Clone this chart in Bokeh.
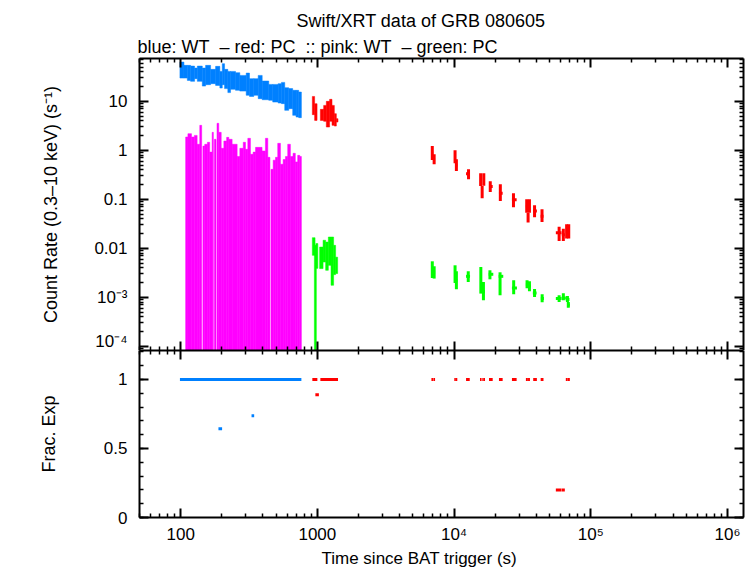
import numpy as np
from bokeh.plotting import figure
from bokeh.models import LogAxis, LinearAxis, FixedTicker, Title, Range1d, CustomJSTickFormatter
from bokeh.layouts import column
from bokeh.embed import file_html
from bokeh.resources import INLINE

FONT = "Liberation Sans"
BLUE, RED, PINK, GREEN = "#0080ff", "#ff0000", "#ff00ff", "#00ff00"

# ---------------- data ----------------
# WT (blue) count-rate bins: time bin edges and rate bounds
wt_tlo = [98.8, 105.7, 111.9, 118.3, 126.5, 132.4, 144.0, 152.2, 165.6, 180.1, 193.6, 201.6, 209.5, 221.4, 231.7, 252.0,
          270.9, 301.7, 318.9, 342.8, 369.2, 394.9, 441.1, 471.7, 516.6, 546.1, 577.3, 617.4, 660.3, 698.9, 730.3]
wt_thi = [105.7, 111.9, 118.3, 126.5, 132.4, 144.0, 152.2, 165.6, 180.1, 193.6, 201.6, 209.5, 221.4, 231.7, 252.0, 270.9,
          301.7, 318.9, 342.8, 369.2, 394.9, 441.1, 471.7, 516.6, 546.1, 577.3, 617.4, 660.3, 698.9, 730.3, 764.2]
wt_hi = [63.4, 54.3, 54.3, 52.5, 47.8, 52.5, 47.8, 54.3, 45.0, 51.8, 40.9, 58.8, 45.0, 40.9, 40.9, 38.5,
         33.9, 37.8, 29.1, 29.1, 33.9, 26.0, 22.2, 22.2, 23.0, 24.4, 19.0, 18.2, 16.8, 16.8, 15.5]
wt_lo = [29.9, 29.9, 26.8, 25.6, 29.1, 25.6, 20.5, 21.9, 23.0, 21.2, 18.7, 21.9, 18.2, 15.1, 17.6, 16.8,
         16.2, 13.3, 12.6, 13.3, 11.35, 10.8, 10.5, 9.67, 9.23, 8.98, 6.55, 7.10, 5.18, 4.78, 4.65]

# WT (pink) hardness-band bins: upper bounds; lower error bars reach zero
pk_tlo = [108.8, 113, 120, 126, 132, 138, 145.5, 150, 157, 163, 170, 176.5, 184.5, 190, 198, 207, 217, 225, 238, 259, 271,
          287, 298, 310, 324, 339, 353, 394, 417, 434, 458, 475, 494, 513, 537, 562, 584, 607, 635, 664, 690, 718, 743]
pk_thi = [113, 120, 126, 132, 138, 142.5, 150, 157, 163, 170, 173.5, 181.5, 190, 198, 207, 217, 225, 238, 259, 271, 287,
          298, 310, 324, 339, 353, 394, 417, 434, 450, 475, 494, 513, 537, 562, 584, 607, 635, 664, 690, 718, 743, 764]
pk_hi = [1.87, 2.19, 1.87, 2.02, 1.33, 3.24, 1.22, 1.33, 1.46, 0.92, 2.33, 1.68, 3.56, 2.33, 1.10, 1.55, 1.84, 1.68,
         1.33, 0.75, 1.10, 1.46, 1.05, 1.76, 0.83, 0.92, 1.15, 0.97, 1.76, 0.72, 0.41, 0.63, 0.72, 1.39, 0.52, 0.65,
         0.75, 1.33, 0.75, 0.87, 0.58, 0.79, 0.75]
pk_lo = [0.0] * len(pk_hi)

# PC (red) early bins
pc1_tlo = [919, 955, 1052, 1112, 1163, 1229, 1280, 1331, 1377]
pc1_thi = [955, 995, 1112, 1163, 1229, 1280, 1331, 1377, 1416]
pc1_hi = [12.6, 8.97, 6.87, 8.28, 10.0, 11.0, 8.28, 5.61, 4.44]
pc1_lo = [5.35, 4.09, 4.09, 3.91, 2.99, 3.91, 3.24, 3.13, 3.78]

# PC (green) early bins
gr1_tlo = [919, 951, 975, 1039, 1101, 1150, 1203, 1259, 1315, 1360]
gr1_thi = [962, 983, 1008, 1101, 1150, 1203, 1259, 1315, 1360, 1407]
gr1_hi = [0.0165, 0.0115, 0.0125, 0.0106, 0.0146, 0.0134, 0.0170, 0.0170, 0.0115, 0.0066]
gr1_lo = [0.0072, 0.0, 0.0039, 0.00385, 0.00525, 0.00356, 0.0045, 0.00176, 0.0029, 0.00305]

# PC (red) late points
pc_t = [6930, 7150, 10170, 10400, 12760, 15650, 16050, 16500, 18400, 21800, 27200, 34000, 34800, 35600, 38800,
        44000, 58700, 63000, 66600, 69000]
pc_tlo = [6830, 7060, 10040, 10280, 12237, 15480, 15900, 16330, 18012, 21305, 26513, 33540, 34300, 35200, 37927,
          43000, 55533, 61400, 65700, 67600]
pc_thi = [7030, 7260, 10300, 10560, 13021, 15820, 16200, 16840, 19170, 22670, 28690, 34400, 35300, 35900, 40350,
          45100, 61100, 64600, 67600, 70300]
pc_rate = [0.88, 0.66, 0.74, 0.50, 0.334, 0.25, 0.14, 0.25, 0.182, 0.1325, 0.0986, 0.072, 0.042, 0.072, 0.0577,
           0.045, 0.0209, 0.019, 0.022, 0.022]
pc_lo = [0.634, 0.518, 0.543, 0.378, 0.256, 0.187, 0.105, 0.19, 0.141, 0.0923, 0.0687, 0.0535, 0.0335, 0.0535,
         0.043, 0.0344, 0.0141, 0.0141, 0.0158, 0.0158]
pc_hi = [1.22, 0.829, 1.0, 0.655, 0.409, 0.340, 0.187, 0.34, 0.233, 0.202, 0.1325, 0.100, 0.0535, 0.100, 0.0754,
         0.0625, 0.0277, 0.0252, 0.0309, 0.0309]
pc_fe = [1, 1, 1, 1, 1, 1, 1, 1, 1, 1, 1, 1, 1, 1, 1, 1, 0.2, 0.2, 1, 1]

# PC (green) late points
gr_t = [6930, 7150, 10170, 10400, 12700, 15700, 16400, 18300, 21700, 27300, 34200, 35600, 38800, 44100, 58700,
        63000, 67500, 68500]
gr_tlo = [6830, 7060, 10040, 10280, 12237, 15480, 16200, 17920, 21200, 26513, 33540, 35100, 37700, 43150, 55533,
          61380, 65700, 67600]
gr_thi = [7030, 7260, 10300, 10560, 13088, 15900, 16840, 19363, 22900, 28840, 34800, 36480, 40140, 45400, 61100,
          65700, 69800, 70300]
gr_rate = [0.0037, 0.0032, 0.003, 0.0022, 0.00268, 0.0022, 0.0013, 0.00295, 0.00268, 0.00155, 0.0018, 0.0017,
           0.00122, 0.00095, 0.00094, 0.00097, 0.0009, 0.0007]
gr_lo = [0.00248, 0.00241, 0.00196, 0.00146, 0.00205, 0.00119, 0.00087, 0.00233, 0.0011, 0.00115, 0.00153,
         0.00133, 0.00101, 0.00079, 0.0008, 0.00087, 0.0008, 0.00061]
gr_hi = [0.00543, 0.0043, 0.0045, 0.0034, 0.0034, 0.00415, 0.00205, 0.00356, 0.00324, 0.00222, 0.00224, 0.00212,
         0.00148, 0.00115, 0.0011, 0.00121, 0.00106, 0.0008]

# fractional exposure
wt_fe_tlo = [98.8, 189, 330]
wt_fe_thi = [764.2, 201, 345]
wt_fe = [1.0, 0.643, 0.737]
pc1_fe_tlo = [919, 967, 1052]
pc1_fe_thi = [1000, 1026, 1416]
pc1_fe = [1.0, 0.889, 1.0]

# axes
X_MIN, X_MAX = 50, 1.31e6
Y_MIN, Y_MAX = 8.2e-5, 75
FE_MIN, FE_MAX = 0, 1.21
x_major = [100, 1000, 1e4, 1e5, 1e6]
x_labels = ["100", "1000", "10⁴", "10⁵", "10⁶"]
y_major = [1e-4, 1e-3, 0.01, 0.1, 1, 10]
y_labels = ["10⁻⁴", "10⁻³", "0.01", "0.1", "1", "10"]
fe_major = [0, 0.5, 1]
fe_labels = ["0", "0.5", "1"]

FLOOR = 1e-7

x_minor = [m * 10.0 ** e for e in range(1, 7) for m in range(2, 10) if X_MIN <= m * 10.0 ** e <= X_MAX]
y_minor = [m * 10.0 ** e for e in range(-5, 2) for m in range(2, 10) if Y_MIN <= m * 10.0 ** e <= Y_MAX]
fe_minor = [i / 10 for i in range(0, 13)]


def fmt(vals, labs):
    mp = {repr(float(v)): l for v, l in zip(vals, labs)}
    code = "const m = %s; const k = Number(tick); for (const key in m) { if (Math.abs(Number(key) - k) <= 1e-9 * Math.max(1, Math.abs(k))) return m[key]; } return '';" % (
        str(mp).replace("'", '"'))
    return CustomJSTickFormatter(code=code)


def style(ax, ticks, minor, labels=None, size="17px"):
    ax.ticker = FixedTicker(ticks=ticks, minor_ticks=minor)
    ax.axis_line_width = 2
    ax.axis_line_color = "black"
    ax.major_tick_line_width = 2
    ax.minor_tick_line_width = 1.5
    ax.major_tick_in = 9
    ax.major_tick_out = 0
    ax.minor_tick_in = 4
    ax.minor_tick_out = 0
    ax.major_label_text_font = FONT
    ax.major_label_text_color = "black"
    if labels is None:
        ax.major_label_text_font_size = "0px"
        ax.major_label_standoff = 0
        ax.formatter = fmt([], [])
    else:
        ax.major_label_text_font_size = size
        ax.formatter = fmt(ticks, labels)
    ax.axis_label_text_font = FONT
    ax.axis_label_text_font_size = "18px"
    ax.axis_label_text_font_style = "normal"
    ax.axis_label_text_color = "black"


# ---------------- top panel ----------------
top = figure(width=754, height=350, x_axis_type="log", y_axis_type="log",
             x_range=Range1d(X_MIN, X_MAX), y_range=Range1d(Y_MIN, Y_MAX),
             x_axis_location=None, y_axis_location=None,
             output_backend="svg", toolbar_location=None,
             min_border_left=139, min_border_right=11, min_border_top=58, min_border_bottom=0)
top.outline_line_color = None
top.grid.visible = False
top.background_fill_color = "white"
top.border_fill_color = "white"

ax = LogAxis(axis_label="Count Rate (0.3–10 keV) (s⁻¹)")
style(ax, y_major, y_minor, y_labels)
ax.major_label_standoff = 12
ax.axis_label_standoff = 30
top.add_layout(ax, "left")
ax = LogAxis()
style(ax, y_major, y_minor)
top.add_layout(ax, "right")
ax = LogAxis()
style(ax, x_major, x_minor)
top.add_layout(ax, "below")
ax = LogAxis()
style(ax, x_major, x_minor)
top.add_layout(ax, "above")

sub = Title(text="blue: WT\u00a0 – red: PC\u00a0 :: pink: WT\u00a0 – green: PC", align="left",
            text_font=FONT, text_font_size="18px", text_font_style="normal", text_color="black",
            standoff=4, offset=-2)
top.add_layout(sub, "above")
ttl = Title(text="Swift/XRT data of GRB 080605", align="left", offset=157,
            text_font=FONT, text_font_size="18px", text_font_style="normal", text_color="black", standoff=3)
top.add_layout(ttl, "above")

# pink WT
top.quad(left=pk_tlo, right=pk_thi, bottom=np.maximum(pk_lo, FLOOR), top=pk_hi,
         fill_color=PINK, line_color=PINK, line_width=0.5)
# blue WT
top.quad(left=wt_tlo, right=wt_thi, bottom=wt_lo, top=wt_hi, fill_color=BLUE, line_color=BLUE, line_width=0.5)
# early PC
top.quad(left=pc1_tlo, right=pc1_thi, bottom=pc1_lo, top=pc1_hi, fill_color=RED, line_color=RED, line_width=0.5)
top.quad(left=gr1_tlo, right=gr1_thi, bottom=np.maximum(gr1_lo, FLOOR), top=gr1_hi,
         fill_color=GREEN, line_color=GREEN, line_width=0.5)
# late PC points with error bars
for t, tlo, thi, r, lo, hi, c in [(pc_t, pc_tlo, pc_thi, pc_rate, pc_lo, pc_hi, RED),
                                   (gr_t, gr_tlo, gr_thi, gr_rate, gr_lo, gr_hi, GREEN)]:
    top.segment(x0=t, y0=lo, x1=t, y1=hi, line_color=c, line_width=3)
    top.segment(x0=tlo, y0=r, x1=thi, y1=r, line_color=c, line_width=3)

# ---------------- bottom panel ----------------
bot = figure(width=754, height=218, x_axis_type="log",
             x_range=top.x_range, y_range=Range1d(FE_MIN, FE_MAX),
             x_axis_location=None, y_axis_location=None,
             output_backend="svg", toolbar_location=None,
             min_border_left=139, min_border_right=11, min_border_top=0, min_border_bottom=51)
bot.outline_line_color = None
bot.grid.visible = False

ax = LinearAxis(axis_label="Frac. Exp")
style(ax, fe_major, fe_minor, fe_labels)
ax.major_label_standoff = 12
ax.axis_label_standoff = 42
bot.add_layout(ax, "left")
ax = LinearAxis()
style(ax, fe_major, fe_minor)
bot.add_layout(ax, "right")
ax = LogAxis()
style(ax, x_major, x_minor, x_labels)
ax.major_label_standoff = 7
bot.add_layout(ax, "below")
ax = LogAxis()
style(ax, x_major, x_minor)
bot.add_layout(ax, "above")
xl = Title(text="Time since BAT trigger (s)", align="left", offset=182,
           text_font=FONT, text_font_size="17px", text_font_style="normal", text_color="black", standoff=0)
bot.add_layout(xl, "below")

bot.segment(x0=wt_fe_tlo, y0=wt_fe, x1=wt_fe_thi, y1=wt_fe, line_color=BLUE, line_width=3)
bot.segment(x0=pc1_fe_tlo, y0=pc1_fe, x1=pc1_fe_thi, y1=pc1_fe, line_color=RED, line_width=3)
bot.segment(x0=pc_tlo, y0=pc_fe, x1=pc_thi, y1=pc_fe, line_color=RED, line_width=3)

layout = column(top, bot, spacing=0)
open("out.html", "w").write(file_html(layout, INLINE))
